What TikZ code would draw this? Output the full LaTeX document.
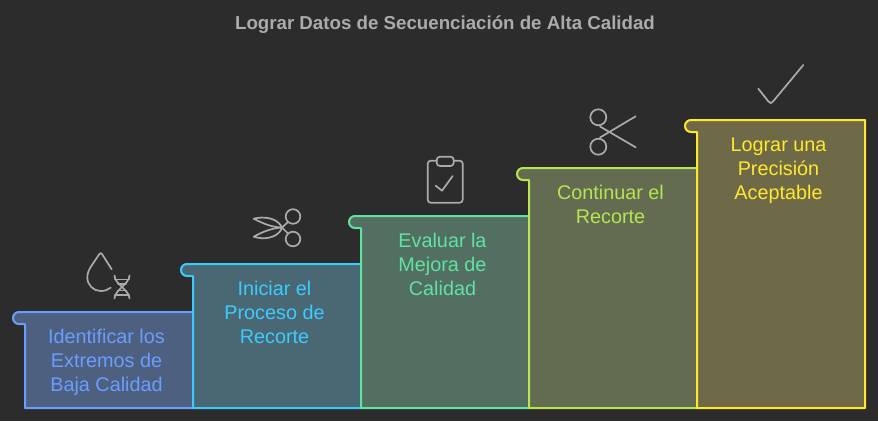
\documentclass[tikz,border=0pt]{standalone}
\usepackage{fontspec}
\setmainfont{Liberation Sans}
\definecolor{bgdark}{HTML}{2C2C2C}
\definecolor{icongrey}{HTML}{ABABAB}
\definecolor{titlegrey}{HTML}{ABABAB}
\definecolor{lineone}{HTML}{699EFF}
\definecolor{linetwo}{HTML}{3CCBFF}
\definecolor{linethree}{HTML}{5FE3A1}
\definecolor{linefour}{HTML}{B5E550}
\definecolor{linefive}{HTML}{FFE82E}
\definecolor{fillone}{HTML}{4E6080}
\definecolor{filltwo}{HTML}{4A6874}
\definecolor{fillthree}{HTML}{526F62}
\definecolor{fillfour}{HTML}{636C50}
\definecolor{fillfive}{HTML}{6E6A47}
\begin{document}
\begin{tikzpicture}[x=1pt, y=-1pt, line join=round,
	stepbox/.style={line width=2pt, miter limit=4},
	steptext/.style={align=center, font=\fontsize{19.8}{24}\selectfont},
	icon/.style={draw=icongrey, line width=1.7pt, line cap=round}]
				\fill[bgdark] (0,0) rectangle (878,421);
				\useasboundingbox (0,0) rectangle (878,421);
				
				\node[text=titlegrey, font=\fontsize{18.7}{22}\selectfont\bfseries] (title) at (445,25){Lograr Datos de Secuenciación de Alta Calidad};
				
				\path[stepbox, draw=lineone, fill=fillone] (19,312) -- (193,312) -- (193,408) -- (25,408) -- (25,324) -- (19,324) .. controls (15.7,324) and (13,321.3) .. (13,318) .. controls (13,314.7) and (15.7,312) .. (19,312) -- cycle;
				\path[stepbox, draw=linetwo, fill=filltwo] (187,264) -- (361,264) -- (361,408) -- (193,408) -- (193,276) -- (187,276) .. controls (183.7,276) and (181,273.3) .. (181,270) .. controls (181,266.7) and (183.7,264) .. (187,264) -- cycle;
				\path[stepbox, draw=linethree, fill=fillthree] (355,216) -- (529,216) -- (529,408) -- (361,408) -- (361,228) -- (355,228) .. controls (351.7,228) and (349,225.3) .. (349,222) .. controls (349,218.7) and (351.7,216) .. (355,216) -- cycle;
				\path[stepbox, draw=linefour, fill=fillfour] (523,168) -- (697,168) -- (697,408) -- (529,408) -- (529,180) -- (523,180) .. controls (519.7,180) and (517,177.3) .. (517,174) .. controls (517,170.7) and (519.7,168) .. (523,168) -- cycle;
				\path[stepbox, draw=linefive, fill=fillfive] (691,120) -- (865,120) -- (865,408) -- (697,408) -- (697,132) -- (691,132) .. controls (687.7,132) and (685,129.3) .. (685,126) .. controls (685,122.7) and (687.7,120) .. (691,120) -- cycle;
				
				\node[steptext, text=lineone] (extremos) at (106.5,362){Identificar los\\Extremos de\\Baja Calidad};
				\node[steptext, text=linetwo] (iniciar) at (274.5,312){Iniciar el\\Proceso de\\Recorte};
				\node[steptext, text=linethree] (evaluar) at (442.5,264){Evaluar la\\Mejora de\\Calidad};
				\node[steptext, text=linefour] (continuar) at (610.5,204){Continuar el\\Recorte};
				\node[steptext, text=linefive] (precision) at (778.5,171){Lograr una\\Precisión\\Aceptable};
				
				\path[icon] (111.7,269.3) -- (102,254) .. controls (101.2,252.9) and (100.2,252.9) .. (99.4,254) -- (92,265) .. controls (88.5,270) and (87.3,273.5) .. (87.3,277.5) .. controls (87.3,285) and (93.5,291) .. (100.5,291) .. controls (104.5,291) and (108,290) .. (110.7,287.7);
				\path[icon] (114.5,275.5) .. controls (114.5,284) and (129.5,290) .. (129.5,298.5);
				\path[icon] (129.5,275.5) .. controls (129.5,284) and (114.5,290) .. (114.5,298.5);
				\path[icon] (115,279.5) -- (129,279.5);
				\path[icon] (118,284) -- (126,284);
				\path[icon] (118,290.5) -- (126,290.5);
				\path[icon] (115,295) -- (129,295);
				
				\path[icon] (293,216.5) circle [radius=7.3pt];
				\path[icon] (293,239) circle [radius=7.3pt];
				\path[icon] (288,222) -- (282,227.5) -- (288,233.5);
				\path[icon] (253.7,218.7) .. controls (264,216) and (276,218) .. (281,225.7) -- (282,227.5) .. controls (272,227.5) and (262,223) .. (253.7,218.7) -- cycle;
				\path[icon] (253.7,236.7) .. controls (262,232) and (272,228) .. (282,227.5) -- (281,230) .. controls (276,238) and (264,240) .. (253.7,236.7) -- cycle;
				
				\path[icon] (436.7,160.7) -- (430.7,160.7) .. controls (429,160.7) and (427.7,162) .. (427.7,163.7) -- (427.7,199.7) .. controls (427.7,201.4) and (429,202.7) .. (430.7,202.7) -- (459.7,202.7) .. controls (461.4,202.7) and (462.7,201.4) .. (462.7,199.7) -- (462.7,163.7) .. controls (462.7,162) and (461.4,160.7) .. (459.7,160.7) -- (453.7,160.7);
				\path[icon] (440,156.7) -- (450.5,156.7) .. controls (452.3,156.7) and (453.7,158.1) .. (453.7,159.9) -- (453.7,162.8) .. controls (453.7,164.6) and (452.3,166) .. (450.5,166) -- (440,166) .. controls (438.2,166) and (436.7,164.6) .. (436.7,162.8) -- (436.7,159.9) .. controls (436.7,158.1) and (438.2,156.7) .. (440,156.7) -- cycle;
				\path[icon] (435.7,185.7) -- (442,190.7) -- (452.7,176);
				
				\path[icon] (598.3,117.3) circle [radius=8pt];
				\path[icon] (598.3,146.7) circle [radius=8pt];
				\path[icon] (600,126.5) -- (635.7,147.3);
				\path[icon] (600,137.5) -- (635.7,116.3);
				
				\path[icon] (758.3,88.7) -- (768.5,101.5) .. controls (770,103.6) and (771.5,103.6) .. (773,101.5) -- (803.3,65);
				\end{tikzpicture}
\end{document}
